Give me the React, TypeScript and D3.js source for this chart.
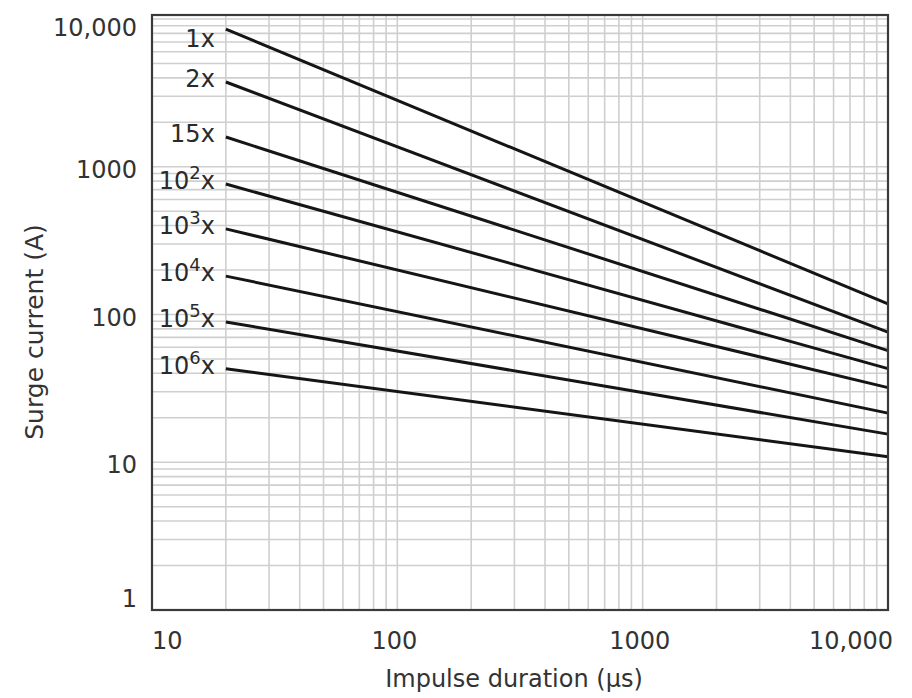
import React from "react";
import * as d3 from "d3";

// impulse durations (µs) where each curve starts / ends
const durationStart = 20;
const durationEnd = 10000;

// number of surges for each curve
const surgeBase = ["1", "2", "15", "10", "10", "10", "10", "10"];
const surgeExp = ["", "", "", "2", "3", "4", "5", "6"];

// surge current (A) at start and end of each curve
const currentAtStart = [8550, 3750, 1590, 764, 380, 182, 89, 43];
const currentAtEnd = [118, 76, 57, 43, 32, 21.5, 15.5, 10.9];

const xTicks = [10, 100, 1000, 10000];
const xTickLabels = ["10", "100", "1000", "10,000"];
const yTicks = [1, 10, 100, 1000, 10000];
const yTickLabels = ["1", "10", "100", "1000", "10,000"];

const W = 912;
const H = 698;
const margin = { top: 15, right: 24, bottom: 88, left: 152 };
const font = "'DejaVu Sans', sans-serif";

export default function App() {
  const x = d3.scaleLog().domain([10, 10000]).range([margin.left, W - margin.right]);
  const y = d3.scaleLog().domain([1, 10650]).range([H - margin.bottom, margin.top]);

  const line = d3
    .line<[number, number]>()
    .x((d) => x(d[0]))
    .y((d) => y(d[1]));

  const xGrid = x.ticks().filter((t) => t > 10 && t < 10000);
  const yGrid = d3
    .range(0, 4)
    .flatMap((e) => d3.range(1, 10).map((m) => m * Math.pow(10, e)))
    .concat([10000])
    .filter((t) => t > 1);

  const [x0, x1] = x.range();
  const [yb, yt] = y.range();

  return (
    <svg width={W} height={H} style={{ position: "absolute", left: 0, top: 0, background: "#fff" }} fontFamily={font}>
      {/* grid */}
      <g stroke="#cfcfcf" strokeWidth={1.6}>
        {xGrid.map((t) => (
          <line key={"vx" + t} x1={x(t)} x2={x(t)} y1={yt} y2={yb} />
        ))}
        {yGrid.map((t) => (
          <line key={"hy" + t} x1={x0} x2={x1} y1={y(t)} y2={y(t)} />
        ))}
      </g>

      {/* curves */}
      <g fill="none" stroke="#151515" strokeWidth={3}>
        {currentAtStart.map((c, i) => (
          <path
            key={i}
            d={line([
              [durationStart, c],
              [durationEnd, currentAtEnd[i]],
            ]) || ""}
          />
        ))}
      </g>

      {/* curve labels */}
      <g fill="#2a2a2a" fontSize={24} textAnchor="end">
        {currentAtStart.map((c, i) => (
          <text key={i} x={x(durationStart) - 11} y={y(c) + (i === 0 ? 10 : -3)} dominantBaseline="central">
            {surgeBase[i]}
            {surgeExp[i] ? (
              <tspan fontSize={18} dy={-9}>
                {surgeExp[i]}
              </tspan>
            ) : null}
            {surgeExp[i] ? <tspan dy={9}>x</tspan> : "x"}
          </text>
        ))}
      </g>

      {/* frame */}
      <rect x={x0} y={yt} width={x1 - x0} height={yb - yt} fill="none" stroke="#3a3a3a" strokeWidth={2.2} />

      {/* y ticks */}
      <g fill="#333" fontSize={24} textAnchor="end">
        {yTicks.map((t, i) => (
          <text key={t} x={137} y={y(t) + (i === 0 ? -11 : i === 4 ? 9 : 3)} dominantBaseline="central">
            {yTickLabels[i]}
          </text>
        ))}
      </g>

      {/* x ticks */}
      <g fill="#333" fontSize={24}>
        {xTicks.map((t, i) => (
          <text
            key={t}
            x={i === 0 ? x(t) : i === xTicks.length - 1 ? x(t) + 5 : x(t) - 3}
            y={649}
            textAnchor={i === 0 ? "start" : i === xTicks.length - 1 ? "end" : "middle"}
          >
            {xTickLabels[i]}
          </text>
        ))}
      </g>

      {/* axis titles */}
      <text x={514} y={687} fill="#333" fontSize={24} textAnchor="middle">
        Impulse duration (μs)
      </text>
      <text transform="translate(43,332) rotate(-90)" fill="#333" fontSize={25} textAnchor="middle">
        Surge current (A)
      </text>
    </svg>
  );
}
